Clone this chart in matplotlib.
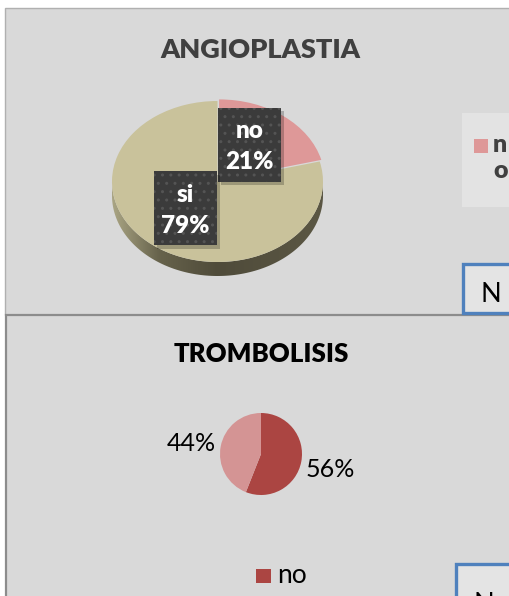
import numpy as np
import matplotlib.pyplot as plt
from matplotlib.patches import Rectangle, Polygon, Ellipse
from matplotlib.colors import LinearSegmentedColormap

plt.rcParams['font.family'] = ['Lato', 'DejaVu Sans']
plt.rcParams['hatch.linewidth'] = 1.0

# ANGIOPLASTIA (3D pie)
angio_labels = ['no', 'si']
angio_values = [21, 79]
angio_colors = ['#de9898', '#c9c29b']

# TROMBOLISIS (flat pie)
trombo_labels = ['no', 'si']
trombo_values = [56, 44]
trombo_colors = ['#ab4542', '#d49494']

W, H = 510, 596
fig = plt.figure(figsize=(W / 100, H / 100), dpi=100)
fig.patch.set_facecolor('white')

# full-figure axes in pixel units for panels, boxes and text
bg = fig.add_axes([0, 0, 1, 1])
bg.set_xlim(0, W)
bg.set_ylim(H, 0)
bg.axis('off')


def px_axes(x0, y0, x1, y1):
    ax = fig.add_axes([x0 / W, 1 - y1 / H, (x1 - x0) / W, (y1 - y0) / H])
    ax.set_facecolor('none')
    return ax


def mid_angles(values):
    total = sum(values)
    cum = np.cumsum([0] + list(values))[:-1]
    return [np.radians(90 - 360 * (c + v / 2) / total) for c, v in zip(cum, values)]


def pct(v, values):
    return f"{v / sum(values) * 100:.0f}%"


# chart panels
bg.add_patch(Rectangle((5.5, 7.5), 520, 307, fc='#d9d9d9', ec='#b0b0b0', lw=1))
bg.add_patch(Rectangle((6, 315), 520, 300, fc='#d9d9d9', ec='#8c8c8c', lw=1.6))

# ---------- ANGIOPLASTIA ----------
bg.text(260.5, 58, 'ANGIOPLASTIA', ha='center', va='baseline',
        fontsize=19.5, fontweight='heavy', color='#404040')

# soft shadow under the pie
for k in range(6):
    bg.add_patch(Ellipse((218, 193), 212 + 4 * k, 178 + 4 * k,
                         fc='black', alpha=0.035, lw=0, zorder=0.5))

depth = 14 / 80.5
pa = px_axes(112, 101, 323, 276)

# side wall of the disc
t = np.linspace(np.pi, 2 * np.pi, 200)
side = np.vstack([np.column_stack([np.cos(t), np.sin(t)]),
                  np.column_stack([np.cos(t[::-1]), np.sin(t[::-1]) - depth])])
wall = Polygon(side, closed=True, fc='none', lw=0)
pa.add_patch(wall)
grad = np.linspace(0, 1, 256)[None, :]
wall_cmap = LinearSegmentedColormap.from_list(
    'wall', [(0, '#aaa584'), (0.22, '#67634c'), (0.5, '#4f4b3a'), (1, '#5b5744')])
im = pa.imshow(grad, cmap=wall_cmap, extent=(-1, 1, -1 - depth, 0),
               aspect='auto', origin='lower')
im.set_clip_path(wall)

pa.pie(angio_values, colors=angio_colors, startangle=90, counterclock=False,
       explode=[0.025, 0], wedgeprops=dict(linewidth=0))
pa.set_aspect('auto')
pa.set_xlim(-1, 1)
pa.set_ylim(-1 - depth, 1)
pa.axis('off')

# dark data label boxes
bw, bh = 63 / 105.5, 74 / 80.5
for lab, v, a in zip(angio_labels, angio_values, mid_angles(angio_values)):
    cx, cy = 0.5 * np.cos(a), 0.5 * np.sin(a) + 0.06
    pa.add_patch(Rectangle((cx - bw / 2 + 0.03, cy - bh / 2 - 0.04), bw, bh,
                           fc='black', alpha=0.22, lw=0, clip_on=False))
    pa.add_patch(Rectangle((cx - bw / 2, cy - bh / 2), bw, bh, fc='#3b3b3b',
                           ec='#545454', lw=0, hatch='..', clip_on=False))
    pa.text(cx, cy - 0.02, f"{lab}\n{pct(v, angio_values)}", ha='center', va='center',
            fontsize=17.5, fontweight='heavy', color='white', linespacing=1.5,
            clip_on=False)

# legend (cut by the right edge)
bg.add_patch(Rectangle((462, 113), 60, 94, fc='#e3e3e3', lw=0))
bg.add_patch(Rectangle((474, 139), 14, 14, fc=angio_colors[0], lw=0))
bg.text(493, 134, '\n'.join(angio_labels[0]), ha='left', va='top',
        fontsize=18, fontweight='heavy', color='#404040', linespacing=1.25)

# selected cell outline
bg.add_patch(Rectangle((463.5, 263.5), 60, 49, fc='#e4e4e4', ec='#4f81bd', lw=2.4))
bg.text(491, 302, 'N', ha='center', va='baseline', fontsize=19.5, color='black')

# ---------- TROMBOLISIS ----------
bg.text(261, 362, 'TROMBOLISIS', ha='center', va='baseline',
        fontsize=18.5, fontweight='heavy', color='black')

pb = px_axes(220, 413, 302, 495)
pb.pie(trombo_values, colors=trombo_colors, startangle=90, counterclock=False,
       wedgeprops=dict(linewidth=0))
pb.set_aspect('auto')
pb.set_xlim(-1, 1)
pb.set_ylim(-1, 1)
pb.axis('off')
for v, a in zip(trombo_values, mid_angles(trombo_values)):
    pb.text(1.72 * np.cos(a), 1.72 * np.sin(a) - 0.06, pct(v, trombo_values),
            ha='center', va='center', fontsize=18, color='black', clip_on=False)

# legend
bg.add_patch(Rectangle((256, 569), 15, 14, fc=trombo_colors[0], lw=0))
bg.text(277, 583, trombo_labels[0], ha='left', va='baseline',
        fontsize=19, color='black')

bg.add_patch(Rectangle((456.5, 563.5), 60, 50, fc='#e4e4e4', ec='#4f81bd', lw=2.4))
bg.text(484, 612, 'N', ha='center', va='baseline', fontsize=19.5, color='black')

fig.savefig('out.png', dpi=100, facecolor='white')
